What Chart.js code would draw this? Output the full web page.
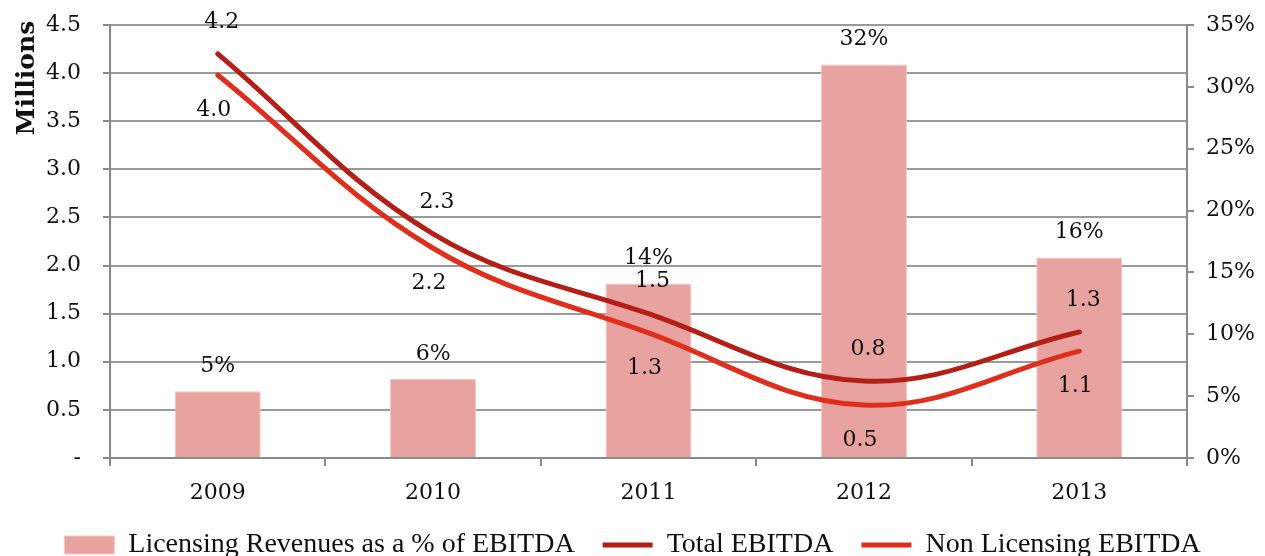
<!DOCTYPE html>
<html>
<head>
<meta charset="utf-8">
<script src="https://cdn.jsdelivr.net/npm/chart.js@4"></script>
<style>
  html, body { margin: 0; padding: 0; background: #fff; }
  #wrap { width: 1265px; height: 556px; }
</style>
</head>
<body>
<div id="wrap"><canvas id="ebitdaChart" width="1265" height="556"></canvas></div>
<script>
// Data
const years = ['2009', '2010', '2011', '2012', '2013'];
const licensingPct = [5.4, 6.4, 14.1, 31.8, 16.2];
const totalEbitda = [4.2, 2.33, 1.5, 0.8, 1.31];
const nonLicensingEbitda = [3.98, 2.18, 1.3, 0.55, 1.11];
const totalLabels = ['4.2', '2.3', '1.5', '0.8', '1.3'];
const nonLabels = ['4.0', '2.2', '1.3', '0.5', '1.1'];

const serif = '"DejaVu Serif", Georgia, serif';
const gridGray = '#9a9a9a';
const axisGray = '#8a8a8a';

// labels on bars and line points
const valueLabels = {
    id: 'valueLabels',
    afterDatasetsDraw(chart) {
        const ctx = chart.ctx;
        ctx.save();
        ctx.font = '22px ' + serif;
        ctx.fillStyle = '#111';
        ctx.textAlign = 'center';
        ctx.textBaseline = 'middle';
        chart.getDatasetMeta(0).data.forEach((el, i) => {
            ctx.fillText(Math.round(licensingPct[i]) + '%', el.x, el.y - 25);
        });
        chart.getDatasetMeta(1).data.forEach((el, i) => {
            ctx.fillText(totalLabels[i], el.x + 4, el.y - 32);
        });
        chart.getDatasetMeta(2).data.forEach((el, i) => {
            ctx.fillText(nonLabels[i], el.x - 4, el.y + 35);
        });
        ctx.restore();
    }
};

// "Millions" sits at the top of the left axis, not centred
const yTitle = {
    id: 'yTitle',
    afterDraw(chart) {
        const ctx = chart.ctx;
        ctx.save();
        ctx.translate(27, 78);
        ctx.rotate(-Math.PI / 2);
        ctx.font = 'bold 25px ' + serif;
        ctx.fillStyle = '#111';
        ctx.textAlign = 'center';
        ctx.textBaseline = 'middle';
        ctx.fillText('Millions', 0, 0);
        ctx.restore();
    }
};

new Chart(document.getElementById('ebitdaChart'), {
    data: {
        labels: years,
        datasets: [
            {
                type: 'bar',
                label: 'Licensing Revenues as a % of EBITDA',
                data: licensingPct,
                yAxisID: 'y1',
                backgroundColor: '#e8a3a1',
                borderColor: '#f3c8c6',
                borderWidth: 1,
                barPercentage: 0.8,
                categoryPercentage: 0.5,
                pointStyle: 'rect',
                order: 2
            },
            {
                type: 'line',
                label: 'Total EBITDA',
                data: totalEbitda,
                yAxisID: 'y',
                borderColor: '#b31f16',
                backgroundColor: '#b31f16',
                borderWidth: 5,
                borderCapStyle: 'round',
                pointRadius: 0,
                tension: 0.38,
                pointStyle: 'line',
                order: 1
            },
            {
                type: 'line',
                label: 'Non Licensing EBITDA',
                data: nonLicensingEbitda,
                yAxisID: 'y',
                borderColor: '#e02e1c',
                backgroundColor: '#e02e1c',
                borderWidth: 5,
                borderCapStyle: 'round',
                pointRadius: 0,
                tension: 0.38,
                pointStyle: 'line',
                order: 1
            }
        ]
    },
    options: {
        responsive: false,
        animation: false,
        layout: { padding: { top: 25, left: 0, right: 0, bottom: -13 } },
        plugins: {
            tooltip: { enabled: false },
            legend: {
                position: 'bottom',
                padding: 0,
                labels: {
                    usePointStyle: true,
                    pointStyleWidth: 50,
                    boxHeight: 18,
                    padding: 28,
                    color: '#111',
                    font: { family: '"Liberation Serif", serif', size: 28 },
                    sort: (a, b) => a.datasetIndex - b.datasetIndex
                }
            }
        },
        scales: {
            x: {
                grid: { offset: true, drawOnChartArea: false, tickLength: 8, color: axisGray, lineWidth: 2 },
                border: { color: axisGray, width: 2 },
                ticks: { color: '#111', padding: 14, font: { family: serif, size: 22 } },
                afterFit(scale) { scale.height = 45; }
            },
            y: {
                position: 'left',
                min: 0,
                max: 4.5,
                ticks: {
                    stepSize: 0.5,
                    color: '#111',
                    padding: 22,
                    font: { family: serif, size: 22 },
                    callback: v => v === 0 ? '-' : v.toFixed(1)
                },
                grid: { color: gridGray, lineWidth: 2, tickLength: 7, tickColor: axisGray },
                border: { color: axisGray, width: 2 },
                afterFit(scale) {
                    scale.width = 110;
                    scale.paddingTop = 0;
                    scale.paddingBottom = 0;
                }
            },
            y1: {
                position: 'right',
                min: 0,
                max: 35,
                ticks: {
                    stepSize: 5,
                    color: '#111',
                    padding: 12,
                    font: { family: serif, size: 22 },
                    callback: v => v + '%'
                },
                grid: { drawOnChartArea: false, tickLength: 7, color: axisGray, lineWidth: 2 },
                border: { color: axisGray, width: 2 },
                afterFit(scale) {
                    scale.width = 78;
                    scale.paddingTop = 0;
                    scale.paddingBottom = 0;
                }
            }
        }
    },
    plugins: [valueLabels, yTitle]
});
</script>
</body>
</html>
